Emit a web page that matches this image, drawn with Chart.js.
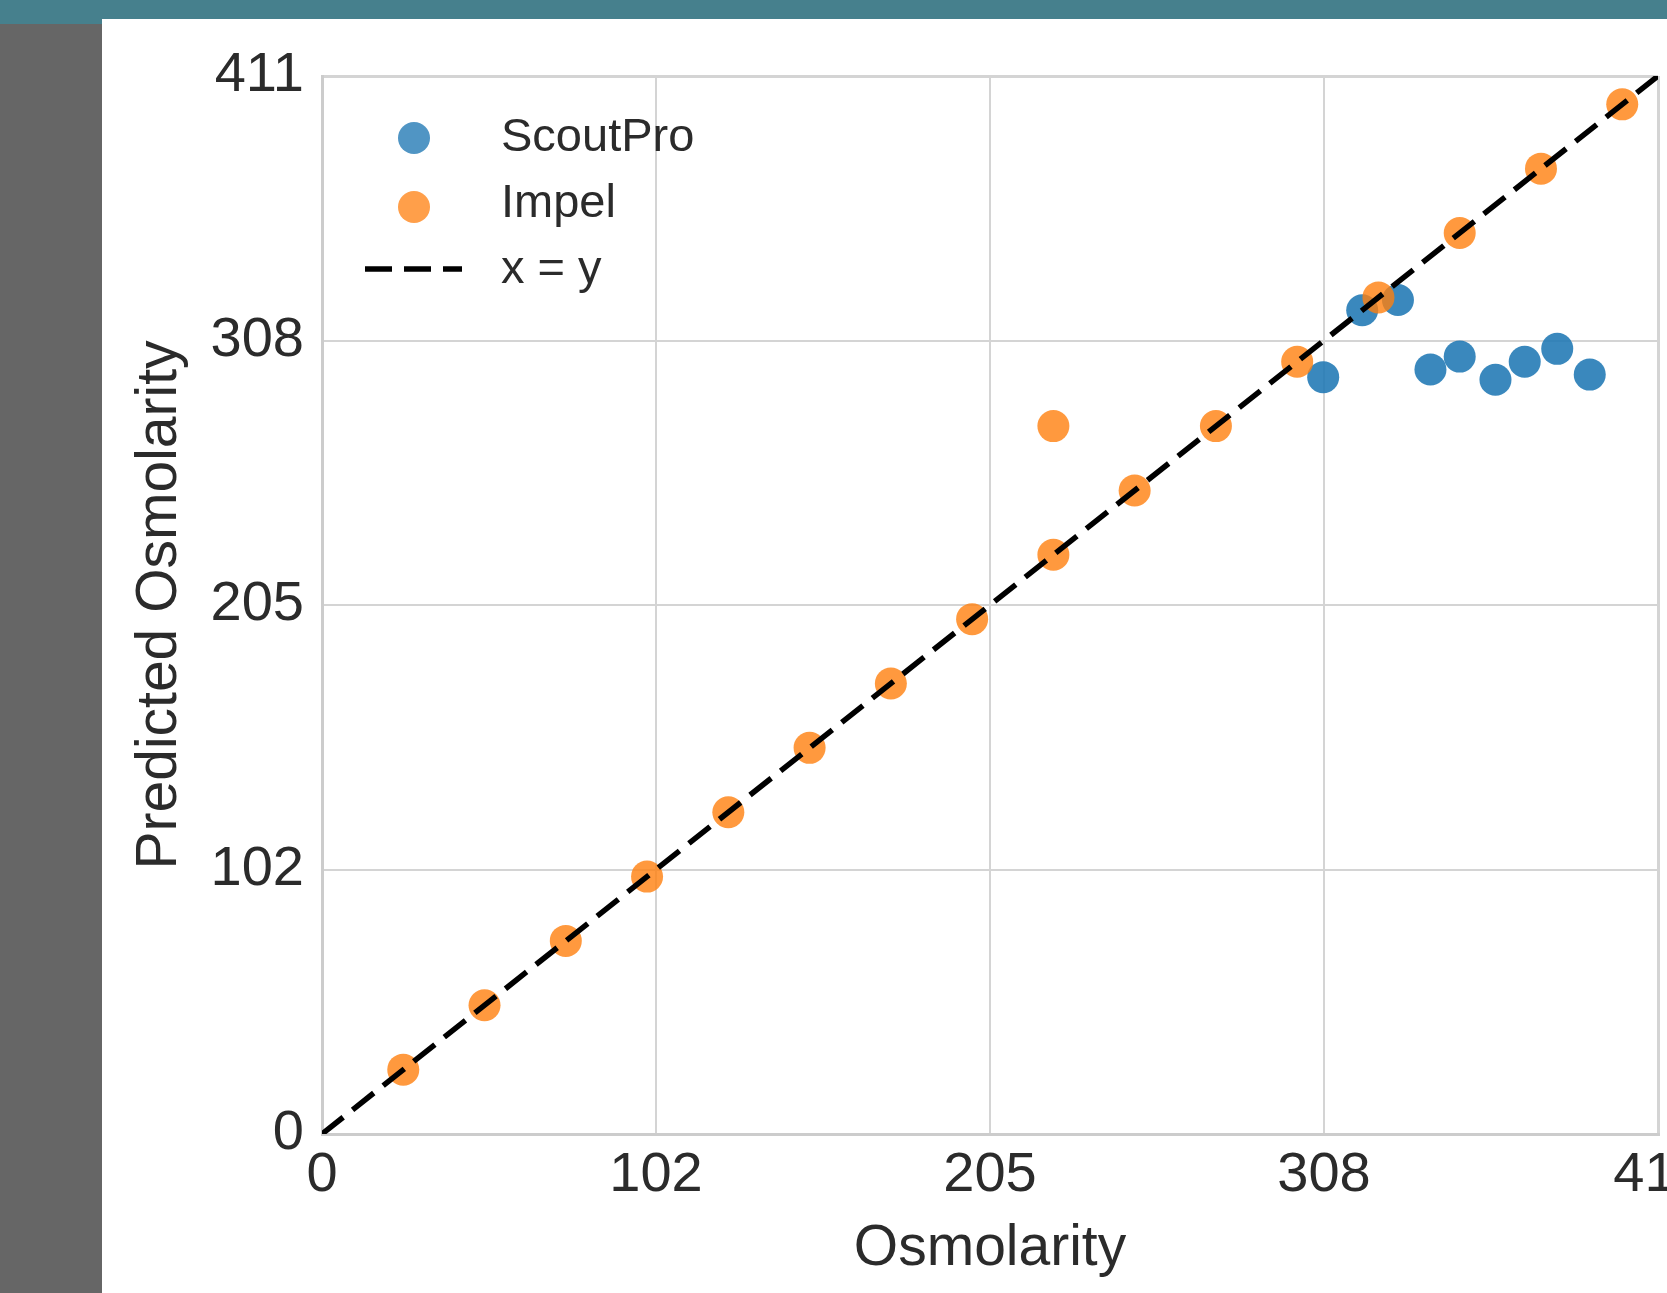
<!DOCTYPE html>
<html><head><meta charset="utf-8">
<script src="https://cdn.jsdelivr.net/npm/chart.js@4.4.1/dist/chart.umd.min.js"></script>
<style>
html,body{margin:0;padding:0;width:1667px;height:1293px;overflow:hidden;background:#fff;}
#top{position:absolute;left:0;top:0;width:1667px;height:19px;background:#46808d;z-index:2;}
#side{position:absolute;left:0;top:0;width:102px;height:1293px;background:#666;border-top:24px solid #46808d;box-sizing:border-box;z-index:2;}
#clip{position:absolute;left:0;top:0;width:1667px;height:1293px;overflow:hidden;}
#wrap{position:absolute;left:102px;top:19px;width:1572px;height:1274px;}
</style></head><body>
<div id="clip"><div id="wrap"><canvas id="c" width="1572" height="1274" style="width:1572px;height:1274px"></canvas></div></div>
<div id="top"></div><div id="side"></div>
<script>
const axisTicks = [0, 102.75, 205.5, 308.25, 411];
const impelX = [25,50,75,100,125,150,175,200,225,225,250,275,300,325,350,375,400];
const impelY = [25,50,75,100,125,150,175,200,225,275,250,275,300,325,350,375,400];
const scoutX = [308,320,331,341,350,361,370,380,390];
const scoutY = [294,320,324,297,302,293,300,305,295];
const lineX = [0,411];
const lineY = [0,411];
const seriesNames = ['ScoutPro','Impel','x = y'];

const BLUE = 'rgba(31,119,180,0.88)';
const ORANGE = 'rgba(255,127,14,0.8)';
const FONT = '"Liberation Sans", Arial, sans-serif';
const TXT = '#2b2b2b';

const zip = (xs, ys) => xs.map((x,i)=>({x, y: ys[i]}));

const legendPlugin = {
  id: 'customLegend',
  afterDraw(chart) {
    const {ctx, chartArea: a} = chart;
    ctx.save();
    const mx = a.left + 92;
    ctx.fillStyle = 'rgba(31,119,180,0.78)';
    ctx.beginPath(); ctx.arc(mx, a.top + 62, 16, 0, Math.PI*2); ctx.fill();
    ctx.fillStyle = 'rgba(255,127,14,0.75)';
    ctx.beginPath(); ctx.arc(mx, a.top + 131, 16, 0, Math.PI*2); ctx.fill();
    ctx.strokeStyle = '#000'; ctx.lineWidth = 5.5; ctx.setLineDash([27,12]);
    ctx.beginPath(); ctx.moveTo(a.left + 43, a.top + 193); ctx.lineTo(a.left + 140, a.top + 193); ctx.stroke();
    ctx.setLineDash([]);
    ctx.fillStyle = TXT;
    ctx.font = '47px ' + FONT;
    ctx.textBaseline = 'alphabetic';
    ctx.textAlign = 'left';
    ctx.fillText(seriesNames[0], a.left + 179, a.top + 75);
    ctx.fillText(seriesNames[1], a.left + 179, a.top + 141);
    ctx.fillText(seriesNames[2], a.left + 179, a.top + 207);
    ctx.restore();
  }
};

const gridW = c => (c.tick && (c.tick.value === 0 || c.tick.value === 411)) ? 3 : 2;

const scaleCommon = (titleText, isX) => ({
  type: 'linear',
  min: 0, max: 411,
  afterBuildTicks: s => { s.ticks = axisTicks.map(v => ({value: v})); },
  afterFit: s => {
    if (isX) { s.height = 159; } else { s.width = 220; }
    s.paddingLeft = 0; s.paddingRight = 0; s.paddingTop = 0; s.paddingBottom = 0;
  },
  grid: { color: '#d4d4d4', lineWidth: gridW, drawTicks: false },
  border: { color: '#cccccc', width: 3 },
  ticks: {
    color: TXT, font: { family: FONT, size: 56 }, padding: isX ? 8 : 18,
    autoSkip: false, maxRotation: 0,
    callback: v => String(Math.floor(v))
  },
  title: {
    display: true, text: titleText, color: TXT,
    font: { family: FONT, size: 57 },
    padding: isX ? {top: 0, bottom: 10} : {top: 24, bottom: 0}
  }
});

new Chart(document.getElementById('c'), {
  type: 'scatter',
  data: {
    datasets: [
      { type: 'line', label: seriesNames[2], data: zip(lineX, lineY), borderColor: '#000', borderWidth: 5.5,
        borderDash: [27,12], pointRadius: 0, fill: false, order: 0 },
      { label: seriesNames[1], data: zip(impelX, impelY), backgroundColor: ORANGE, borderWidth: 0,
        pointRadius: 16, order: 1 },
      { label: seriesNames[0], data: zip(scoutX, scoutY), backgroundColor: BLUE, borderWidth: 0,
        pointRadius: 16, order: 2 }
    ]
  },
  options: {
    responsive: false, animation: false, events: [],
    layout: { padding: { left: 0, top: 57, right: 8, bottom: 0 } },
    plugins: { legend: { display: false }, tooltip: { enabled: false } },
    scales: {
      x: scaleCommon('Osmolarity', true),
      y: scaleCommon('Predicted Osmolarity', false)
    }
  },
  plugins: [legendPlugin]
});
</script>
</body></html>
